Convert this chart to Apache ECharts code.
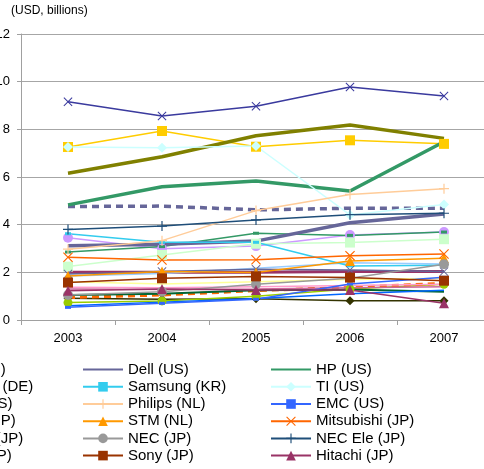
<!DOCTYPE html>
<html>
<head>
<meta charset="utf-8">
<script src="https://cdn.jsdelivr.net/npm/echarts@6/dist/echarts.min.js"></script>
<style>
html,body{margin:0;padding:0;background:#fff;}
#c{width:484px;height:469px;}
</style>
</head>
<body>
<div id="c"></div>
<script>
// ---- data ----
const years = ['2003', '2004', '2005', '2006', '2007'];
const yTicks = [0, 2, 4, 6, 8, 10, 12];
const unitLabel = '(USD, billions)';

// legend column A (partly cut off at left edge)
const nokia    = [7.26, 7.93, 7.27, 7.54, 7.39];
const siemens  = [6.16, 6.85, 7.73, 8.18, 7.62];
const cisco    = [3.45, 2.99, 3.10, 3.57, 3.69];
const fujitsu  = [2.85, 3.08, 3.64, 3.55, 3.69];
const toshiba  = [2.24, 2.73, 3.20, 3.25, 3.39];
const sharp    = [1.93, 2.03, 2.13, 2.10, 2.03];
// hidden legend columns
const ibm      = [9.16, 8.56, 8.97, 9.78, 9.40];
const intel    = [4.76, 4.78, 4.62, 4.69, 4.69];
const lg       = [2.00, 2.00, 2.00, 2.03, 2.03];
const matsu    = [1.85, 1.95, 2.17, 2.40, 2.35];
const canon    = [0.91, 0.87, 0.89, 0.81, 0.81];
const motorola = [0.73, 0.80, 1.00, 1.30, 1.50];
const apple    = [0.94, 1.05, 1.23, 1.37, 1.54];
const msft     = [1.37, 1.35, 1.40, 1.45, 1.50];
const ericsson = [1.60, 1.51, 1.60, 1.70, 1.75];
const alcatel  = [1.05, 1.10, 1.25, 1.28, 1.19];
const infineon = [1.30, 1.28, 1.30, 1.35, 1.40];
const xerox    = [0.60, 0.75, 0.90, 1.10, 1.25];
// legend columns B and C
const dell       = [3.12, 3.18, 3.31, 4.08, 4.45];
const hp         = [4.83, 5.59, 5.83, 5.41, 7.48];
const samsung    = [3.62, 3.26, 3.26, 2.27, 2.30];
const ti         = [7.26, 7.23, 7.30, 4.41, 4.85];
const philips    = [2.97, 3.33, 4.59, 5.27, 5.51];
const emc        = [0.53, 0.70, 0.87, 1.51, 1.79];
const stm        = [1.85, 2.03, 1.99, 2.48, 2.59];
const mitsubishi = [2.63, 2.52, 2.53, 2.70, 2.77];
const nec        = [1.05, 1.19, 1.50, 1.75, 2.34];
const necEle     = [3.80, 3.94, 4.20, 4.42, 4.48];
const sony       = [1.57, 1.75, 1.83, 1.78, 1.65];
const hitachi    = [1.23, 1.30, 1.26, 1.26, 0.70];

const legendColA = ['Nokia (FI)', 'Siemens (DE)', 'Cisco (US)', 'Fujitsu (JP)', 'Toshiba (JP)', 'Sharp (JP)'];
const legendColB = ['Dell (US)', 'Samsung (KR)', 'Philips (NL)', 'STM (NL)', 'NEC (JP)', 'Sony (JP)'];
const legendColC = ['HP (US)', 'TI (US)', 'EMC (US)', 'Mitsubishi (JP)', 'NEC Ele (JP)', 'Hitachi (JP)'];

// ---- styling ----
const X = 'path://M0,0.8L0.8,0L5,4.2L9.2,0L10,0.8L5.8,5L10,9.2L9.2,10L5,5.8L0.8,10L0,9.2L4.2,5Z';
const PLUS = 'path://M4.4,0H5.6V4.4H10V5.6H5.6V10H4.4V5.6H0V4.4H4.4Z';
const FONT = 'Liberation Sans, Arial, sans-serif';
const noMarker = {};

function s(name, data, color, opts) {
  opts = opts || {};
  if (!opts.symbol) noMarker[name] = true;
  return {
    name: name, type: 'line', data: data,
    symbol: opts.symbol || 'none',
    symbolSize: opts.size || 9,
    showSymbol: true,
    lineStyle: { color: color, width: opts.width || 1.5, type: opts.dash ? [7, 5] : 'solid' },
    itemStyle: { color: color },
    z: opts.z || 2
  };
}

const series = [
  s('IBM (US)', ibm, '#3a3a9e', { symbol: X, size: 9 }),
  s('Intel (US)', intel, '#666699', { width: 3.5, dash: true }),
  s('LG (KR)', lg, '#993366', { width: 3 }),
  s('Matsushita (JP)', matsu, '#99ccff'),
  s('Canon (JP)', canon, '#333300', { symbol: 'diamond', size: 9 }),
  s('Motorola (US)', motorola, '#99cc00', { symbol: 'circle', size: 9 }),
  s('Apple (US)', apple, '#ff6600', { width: 3, dash: true }),
  s('Microsoft (US)', msft, '#ff99cc'),
  s('Ericsson (SE)', ericsson, '#ffff99'),
  s('Alcatel (FR)', alcatel, '#006633', { width: 2 }),
  s('Infineon (DE)', infineon, '#cc6699'),
  s('Xerox (US)', xerox, '#0066ff'),
  s('Nokia (FI)', nokia, '#ffcc00', { symbol: 'rect', size: 10 }),
  s('Siemens (DE)', siemens, '#808000', { width: 3.5 }),
  s('Cisco (US)', cisco, '#cc99ff', { symbol: 'circle', size: 10 }),
  s('Fujitsu (JP)', fujitsu, '#339966', { symbol: 'rect', size: [6, 3] }),
  s('Toshiba (JP)', toshiba, '#ccffcc', { symbol: 'rect', size: 10 }),
  s('Sharp (JP)', sharp, '#666699', { symbol: X, size: 9 }),
  s('Dell (US)', dell, '#666699', { width: 3.5 }),
  s('HP (US)', hp, '#339966', { width: 3.5 }),
  s('Samsung (KR)', samsung, '#33ccee', { symbol: 'rect', size: [6, 3] }),
  s('TI (US)', ti, '#ccffff', { symbol: 'diamond', size: 10 }),
  s('Philips (NL)', philips, '#ffcc99', { symbol: PLUS, size: 10 }),
  s('EMC (US)', emc, '#3366ff', { symbol: 'rect', size: [6, 3] }),
  s('STM (NL)', stm, '#ff9900', { symbol: 'triangle', size: 10 }),
  s('Mitsubishi (JP)', mitsubishi, '#ff6600', { symbol: X, size: 10 }),
  s('NEC (JP)', nec, '#999999', { symbol: 'circle', size: 10 }),
  s('NEC Ele (JP)', necEle, '#1f4e79', { symbol: PLUS, size: 10 }),
  s('Sony (JP)', sony, '#993300', { symbol: 'rect', size: 10 }),
  s('Hitachi (JP)', hitachi, '#993366', { symbol: 'triangle', size: 10 })
];

function legend(left, names) {
  return {
    orient: 'vertical', left: left, top: 361, height: 107, padding: 0,
    itemWidth: 40, itemHeight: 12, itemGap: 0,
    selectedMode: false,
    textStyle: { fontSize: 15, lineHeight: 17.2, color: '#000', fontFamily: FONT },
    data: names.map(function (n) {
      return noMarker[n] ? { name: n, itemStyle: { opacity: 0 } } : n;
    })
  };
}

const chart = echarts.init(document.getElementById('c'), null, { renderer: 'canvas' });
chart.setOption({
  animation: false,
  backgroundColor: '#fff',
  title: {
    text: unitLabel, left: 11, top: 4.5, padding: 0,
    textStyle: { fontSize: 12, fontWeight: 'normal', color: '#000', fontFamily: FONT }
  },
  grid: { left: 21, top: 34, width: 470, height: 286, containLabel: false, outerBoundsMode: 'none' },
  legend: [legend(-106, legendColA), legend(82, legendColB), legend(270, legendColC)],
  xAxis: {
    type: 'category', data: years, boundaryGap: true,
    axisLine: { lineStyle: { color: '#a0a0a0', width: 1 } },
    axisTick: { show: true, length: 5, lineStyle: { color: '#a0a0a0' } },
    axisLabel: { fontSize: 13, color: '#000', margin: 12, fontFamily: FONT }
  },
  yAxis: {
    type: 'value', min: yTicks[0], max: yTicks[yTicks.length - 1], interval: 2,
    axisLine: { show: true, lineStyle: { color: '#a0a0a0', width: 1 } },
    axisTick: { show: true, length: 4, lineStyle: { color: '#a0a0a0' } },
    splitLine: { show: true, lineStyle: { color: '#a6a6a6', width: 1 } },
    axisLabel: { fontSize: 13, color: '#000', margin: 11, fontFamily: FONT }
  },
  series: series
});
</script>
</body>
</html>
